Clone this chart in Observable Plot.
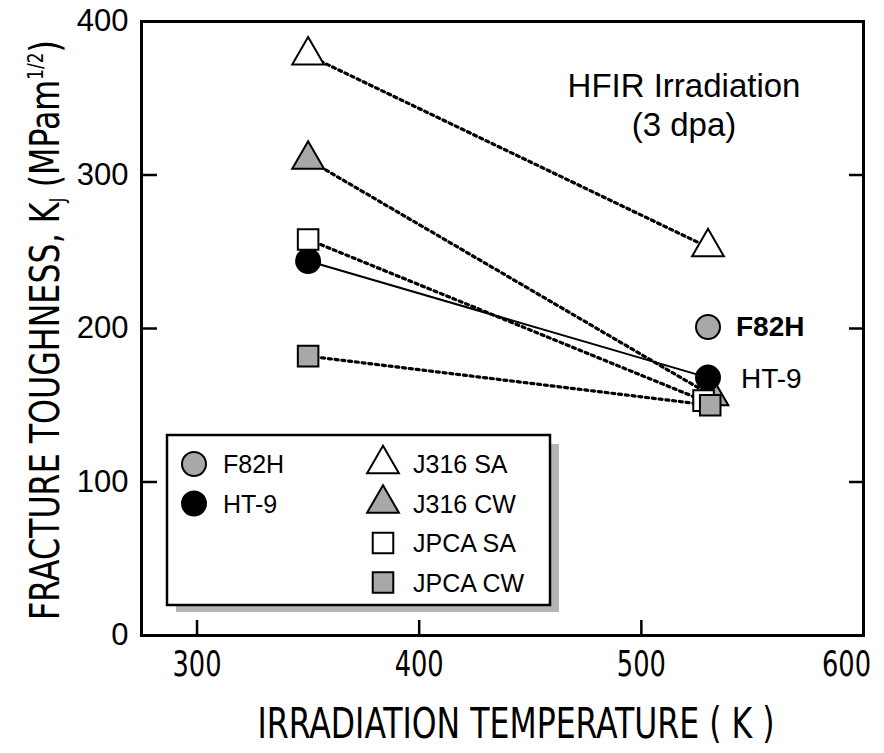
<!DOCTYPE html>
<html><head><meta charset="utf-8">
<script src="https://cdn.jsdelivr.net/npm/d3@7"></script>
<script src="https://cdn.jsdelivr.net/npm/@observablehq/plot@0.6"></script>
<style>body{margin:0;background:#fff}</style>
</head><body><div id="chart"></div>
<script>
// ---- data ----
const materials = ["F82H", "HT-9", "J316 SA", "J316 CW", "JPCA SA", "JPCA CW"];
const tempF82H = [530];       const kjF82H = [201];
const tempHT9 = [350, 530];   const kjHT9 = [244, 168];
const tempJ316SA = [350, 530]; const kjJ316SA = [378, 253];
const tempJ316CW = [350, 532]; const kjJ316CW = [310, 156];
const tempJPCASA = [350, 528]; const kjJPCASA = [258, 153];
const tempJPCACW = [350, 531]; const kjJPCACW = [182, 150];
const xTicks = [300, 400, 500, 600];
const yTicks = [0, 100, 200, 300, 400];
const xTitle = "IRRADIATION TEMPERATURE ( K )";
const noteLines = ["HFIR Irradiation", "(3 dpa)"];

// ---- styles ----
const GRAY = "#a8a8a8";
const style = {
  "F82H":    {symbol: "circle",   fill: GRAY,    dash: null},
  "HT-9":    {symbol: "circle",   fill: "black", dash: "solid"},
  "J316 SA": {symbol: "triangle", fill: "white", dash: "dot"},
  "J316 CW": {symbol: "triangle", fill: GRAY,    dash: "dot"},
  "JPCA SA": {symbol: "square",   fill: "white", dash: "dot"},
  "JPCA CW": {symbol: "square",   fill: GRAY,    dash: "dot"}
};
const series = {
  "F82H": [tempF82H, kjF82H], "HT-9": [tempHT9, kjHT9],
  "J316 SA": [tempJ316SA, kjJ316SA], "J316 CW": [tempJ316CW, kjJ316CW],
  "JPCA SA": [tempJPCASA, kjJPCASA], "JPCA CW": [tempJPCACW, kjJPCACW]
};
const rows = materials.flatMap(m => series[m][0].map((t, i) => ({
  material: m, t, kj: series[m][1][i], ...style[m]
})));
const R = {circle: 12, triangle: 11.8, square: 11.6};
const sym = s => rows.filter(d => d.symbol === s);

const FONT = "'Liberation Sans', Arial, Helvetica, sans-serif";
const NARROW = "'Liberation Sans Narrow', 'Arial Narrow', 'DejaVu Sans Condensed', sans-serif";

const chart = Plot.plot({
  width: 884, height: 753,
  marginLeft: 141, marginRight: 21, marginTop: 21, marginBottom: 118,
  style: {fontFamily: FONT, background: "white", color: "black"},
  x: {domain: [275, 600]},
  y: {domain: [0, 400]},
  color: {type: "identity"},
  marks: [
    // inward ticks
    Plot.axisY({ticks: [100, 200, 300], anchor: "left", tickSize: 16, dx: 16, fill: "none", label: null, strokeWidth: 2.5}),
    Plot.axisY({ticks: [100, 200, 300], anchor: "right", tickSize: 15, dx: -15, fill: "none", label: null, strokeWidth: 2.5}),
    Plot.axisX({ticks: [300, 400, 500], anchor: "bottom", tickSize: 15, dy: -15, fill: "none", label: null, strokeWidth: 2.5}),
    // tick labels
    Plot.axisY({ticks: yTicks, anchor: "left", tickSize: 0, tickPadding: 13, fontSize: 31, label: null, tickFormat: d3.format("d")}),
    Plot.axisX({ticks: xTicks, anchor: "bottom", tickSize: 0, tickPadding: 15, fontSize: 36, fontFamily: NARROW, label: null, tickFormat: d3.format("d")}),
    Plot.frame({strokeWidth: 3}),
    // connecting lines
    Plot.line(rows.filter(d => d.dash === "dot"), {x: "t", y: "kj", z: "material", stroke: "black", strokeWidth: 3.2, strokeDasharray: "3,3.8"}),
    Plot.line(rows.filter(d => d.dash === "solid"), {x: "t", y: "kj", z: "material", stroke: "black", strokeWidth: 2}),
    // markers
    Plot.dot(sym("triangle"), {x: "t", y: "kj", symbol: "triangle", r: R.triangle, fill: "fill", stroke: "black", strokeWidth: 2}),
    Plot.dot(sym("circle"), {x: "t", y: "kj", symbol: "circle", r: R.circle, fill: "fill", stroke: "black", strokeWidth: 2}),
    Plot.dot(sym("square"), {x: "t", y: "kj", symbol: "square", r: R.square, fill: "fill", stroke: "black", strokeWidth: 2}),
    // direct labels
    Plot.text(rows.filter(d => d.material === "F82H"), {x: "t", y: "kj", text: "material", textAnchor: "start", dx: 28, fontSize: 28, fontWeight: "bold", fill: "black"}),
    Plot.text(rows.filter(d => d.material === "HT-9" && d.t > 400), {x: "t", y: "kj", text: "material", textAnchor: "start", dx: 33, dy: 1, fontSize: 28, fill: "black"})
  ]
});
document.getElementById("chart").appendChild(chart);

const svg = d3.select(chart);
// condensed x tick labels (narrow face as in the reference)
svg.selectAll('g[aria-label="x-axis tick label"] text')
  .attr("textLength", 49).attr("lengthAdjust", "spacingAndGlyphs")
  .each(function(d, i, nodes) { if (i === nodes.length - 1) d3.select(this).attr("dx", -17); });

// annotation
const note = svg.append("text").attr("text-anchor", "middle").attr("font-family", FONT).attr("font-size", 33).attr("fill", "black");
note.append("tspan").attr("x", 684).attr("y", 97).text(noteLines[0]);
note.append("tspan").attr("x", 684).attr("y", 136).text(noteLines[1]);

// axis titles
svg.append("text").attr("x", 516).attr("y", 738).attr("text-anchor", "middle")
  .attr("font-family", NARROW).attr("font-size", 42).attr("fill", "black")
  .attr("textLength", 517).attr("lengthAdjust", "spacingAndGlyphs").text(xTitle);

const yt = svg.append("text").attr("transform", "translate(59,330) rotate(-90)").attr("text-anchor", "middle")
  .attr("font-family", NARROW).attr("font-size", 41).attr("fill", "black")
  .attr("textLength", 580).attr("lengthAdjust", "spacingAndGlyphs");
yt.append("tspan").text("FRACTURE TOUGHNESS, K");
yt.append("tspan").attr("font-size", 22).attr("dy", 6).text("J");
yt.append("tspan").attr("dy", -6).text(" (MPam");
yt.append("tspan").attr("font-size", 22).attr("dy", -16).text("1/2");
yt.append("tspan").attr("dy", 16).text(")");

// legend
const lg = svg.append("g");
lg.append("rect").attr("x", 176).attr("y", 444).attr("width", 383).attr("height", 168).attr("fill", "#b4b4b4");
lg.append("rect").attr("x", 167).attr("y", 435).attr("width", 383).attr("height", 170)
  .attr("fill", "white").attr("stroke", "black").attr("stroke-width", 2.5);
const legendPos = {
  "F82H": [0, 0], "HT-9": [0, 1], "J316 SA": [1, 0], "J316 CW": [1, 1], "JPCA SA": [1, 2], "JPCA CW": [1, 3]
};
const symX = [194, 383], txtX = [223, 413];
const d3sym = {circle: d3.symbolCircle, triangle: d3.symbolTriangle, square: d3.symbolSquare};
materials.forEach(m => {
  const [c, r] = legendPos[m];
  const y = 464 + r * 39.5;
  const s = style[m];
  lg.append("path")
    .attr("d", d3.symbol().type(d3sym[s.symbol]).size(Math.PI * R[s.symbol] ** 2)())
    .attr("transform", `translate(${symX[c]},${y})`)
    .attr("fill", s.fill).attr("stroke", "black").attr("stroke-width", 2);
  lg.append("text").attr("x", txtX[c]).attr("y", y).attr("dy", "0.36em").attr("text-anchor", "start")
    .attr("font-family", FONT).attr("font-size", 25).attr("fill", "black").text(m);
});
</script></body></html>
